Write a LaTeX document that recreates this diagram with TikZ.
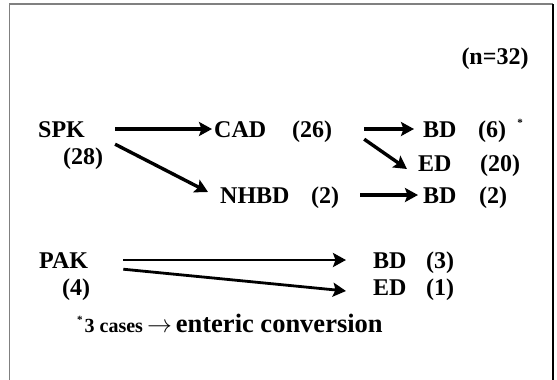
\documentclass[tikz,border=0pt]{standalone}
\usepackage{fontspec}
\setmainfont{Liberation Serif}
\usetikzlibrary{arrows.meta}
\begin{document}
\begin{tikzpicture}[x=1pt,y=-1pt,
		term/.style={anchor=base west,inner sep=0pt,text height=16pt,text depth=0pt,font=\fontsize{24}{24}\selectfont\bfseries},
		cnt/.style={anchor=base,inner sep=0pt,text height=16pt,text depth=0pt,font=\fontsize{24}{24}\selectfont\bfseries},
		arr/.style={line width=3.4pt,-{Stealth[length=13pt,width=14pt,inset=2.5pt]}},
		thinarr/.style={arr,line width=2.8pt}]
		\fill[white] (0,0) rectangle (557,380);
		\useasboundingbox (0,0) rectangle (557,380);
		\draw[gray,line width=1.5pt] (9.5,380)--(9.5,4)--(553,4);
		\draw[line width=1.5pt] (553,4)--(553,380);
		\node[cnt] (total) at (495,64) {(n=32)};
		% SPK branch
		\node[term] (spk) at (38,137) {SPK};
		\node[cnt] (spkN) at (83,164) {(28)};
		\node[term] (cad) at (214,137) {CAD};
		\node[cnt] (cadN) at (312,137) {(26)};
		\node[term] (bdA) at (423,137) {BD};
		\node[cnt] (bdAN) at (492,137) {(6)};
		\node[inner sep=0pt,font=\fontsize{11}{11}\selectfont\bfseries] (star) at (520,123) {*};
		\node[term] (edA) at (418,171) {ED};
		\node[cnt] (edAN) at (500,171) {(20)};
		\node[term] (nhbd) at (220,203) {NHBD};
		\node[cnt] (nhbdN) at (325,203) {(2)};
		\node[term] (bdB) at (423,203) {BD};
		\node[cnt] (bdBN) at (493,203) {(2)};
		\draw[arr,shorten <=30pt,shorten >=2pt] (spk.east)--(cad.west);
		\draw[arr,shorten <=32pt,shorten >=9pt] (cadN.east)--(bdA.west);
		\draw[arr] ([xshift=32pt,yshift=-2pt]cadN.south east)--([xshift=-11pt,yshift=-6pt]edA.west);
		\draw[arr] ([xshift=30pt,yshift=-7pt]spk.south east)--([xshift=-12pt,yshift=3pt]nhbd.west);
		\draw[arr,shorten <=21pt,shorten >=5pt] (nhbdN.east)--(bdB.west);
		% PAK branch
		\node[term] (pak) at (39,268) {PAK};
		\node[cnt] (pakN) at (76,295) {(4)};
		\node[term] (bdC) at (373,268) {BD};
		\node[cnt] (bdCN) at (440,268) {(3)};
		\node[term] (edB) at (373,295) {ED};
		\node[cnt] (edBN) at (440,295) {(1)};
		\draw[thinarr,shorten <=35pt,shorten >=27pt] (pak.east)--(bdC.west);
		\draw[thinarr] ([xshift=35pt,yshift=-1pt]pak.south east)--([xshift=-27pt,yshift=-4pt]edB.west);
		\node[anchor=base west,inner sep=0pt,font=\bfseries] (note) at (77,332)
			{\raisebox{9pt}{\fontsize{11}{11}\selectfont *}\hspace{2pt}{\fontsize{20}{20}\selectfont 3 cases}\hspace{4pt}{\fontsize{26}{26}\selectfont\mdseries$\rightarrow$}\hspace{4pt}{\fontsize{26.5}{26.5}\selectfont enteric conversion}};
	\end{tikzpicture}
\end{document}
